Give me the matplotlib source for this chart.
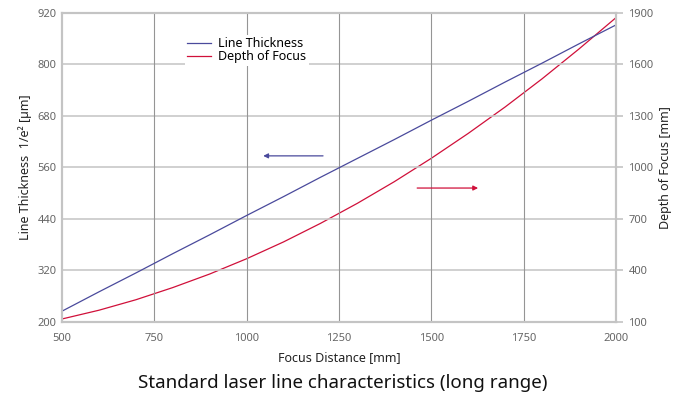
import matplotlib.pyplot as plt

plt.rcParams['font.family'] = ['Noto Sans', 'DejaVu Sans']

focus_mm = [500, 600, 700, 800, 900, 1000, 1100, 1200, 1300, 1400, 1500,
            1600, 1700, 1800, 1900, 2000]
line_thickness_um = [225, 270, 314, 359, 403, 448, 492, 537, 581, 625, 670,
                     714, 759, 803, 848, 892]
depth_of_focus_mm = [117, 168, 229, 300, 379, 468, 566, 674, 791, 917, 1053,
                     1198, 1352, 1516, 1690, 1872]

left_ticks = [200, 320, 440, 560, 680, 800, 920]
right_ticks = [100, 400, 700, 1000, 1300, 1600, 1900]
x_ticks = [500, 750, 1000, 1250, 1500, 1750, 2000]

BLUE = "#4a4a9c"
RED = "#d0103a"
TXT = "#666666"
SPINE = "#c4c4c4"

fig = plt.figure(figsize=(6.85, 3.94), dpi=100)
ax = fig.add_axes([0.0905, 0.183, 0.8085, 0.784])
ax2 = ax.twinx()

ax.set_xlim(500, 2000)
ax.set_ylim(200, 920)
ax2.set_ylim(100, 1900)

# grid: light horizontal, darker thin vertical
for v in left_ticks[1:-1]:
    ax.axhline(v, color="#c8c8c8", lw=1.2, zorder=0)
for v in x_ticks[1:-1]:
    ax.axvline(v, color="#959595", lw=0.8, zorder=0)

ax.plot(focus_mm, line_thickness_um, color=BLUE, lw=0.9, label="Line Thickness")
ax2.plot(focus_mm, depth_of_focus_mm, color=RED, lw=0.9, label="Depth of Focus")

# arrows pointing to the matching axis
ax.annotate("", xy=(1045, 587), xytext=(1207, 587),
            arrowprops=dict(arrowstyle="-|>", color=BLUE, lw=0.9,
                            mutation_scale=7, shrinkA=0, shrinkB=0))
ax.annotate("", xy=(1627, 512), xytext=(1462, 512),
            arrowprops=dict(arrowstyle="-|>", color=RED, lw=0.9,
                            mutation_scale=7, shrinkA=0, shrinkB=0))

for a in (ax, ax2):
    for s in a.spines.values():
        s.set_color(SPINE)
        s.set_linewidth(1.5)

ax.set_xticks(x_ticks)
ax.set_yticks(left_ticks)
ax2.set_yticks(right_ticks)
ax.tick_params(axis="x", length=0, pad=8, labelsize=8, labelcolor=TXT)
ax.tick_params(axis="y", length=0, pad=4, labelsize=8, labelcolor=TXT)
ax2.tick_params(axis="y", length=5, width=1.2, color=SPINE, pad=4,
                labelsize=8, labelcolor=TXT)

ax.set_ylabel("Line Thickness  1/e² [µm]", fontsize=9, color="#222222", labelpad=4)
ax2.set_ylabel("Depth of Focus [mm]", fontsize=9, color="#222222", labelpad=4)
ax.set_xlabel("Focus Distance [mm]", fontsize=9, color="#222222", labelpad=5)

h1, l1 = ax.get_legend_handles_labels()
h2, l2 = ax2.get_legend_handles_labels()
leg = ax.legend(h1 + h2, l1 + l2, loc="upper left", bbox_to_anchor=(0.222, 0.93),
                fontsize=9, handlelength=1.9, handletextpad=0.55,
                labelspacing=0.0, borderaxespad=0, borderpad=0.2)
leg.get_frame().set_edgecolor("none")
leg.get_frame().set_facecolor("white")
leg.get_frame().set_alpha(1)
leg.get_frame().set_boxstyle("square", pad=0)
ax.set_zorder(ax2.get_zorder() + 1)
ax.patch.set_visible(False)

fig.text(0.5, 0.028, "Standard laser line characteristics (long range)",
         ha="center", va="center", fontsize=13.5, color="#111111")

plt.savefig("out.png", dpi=100)
